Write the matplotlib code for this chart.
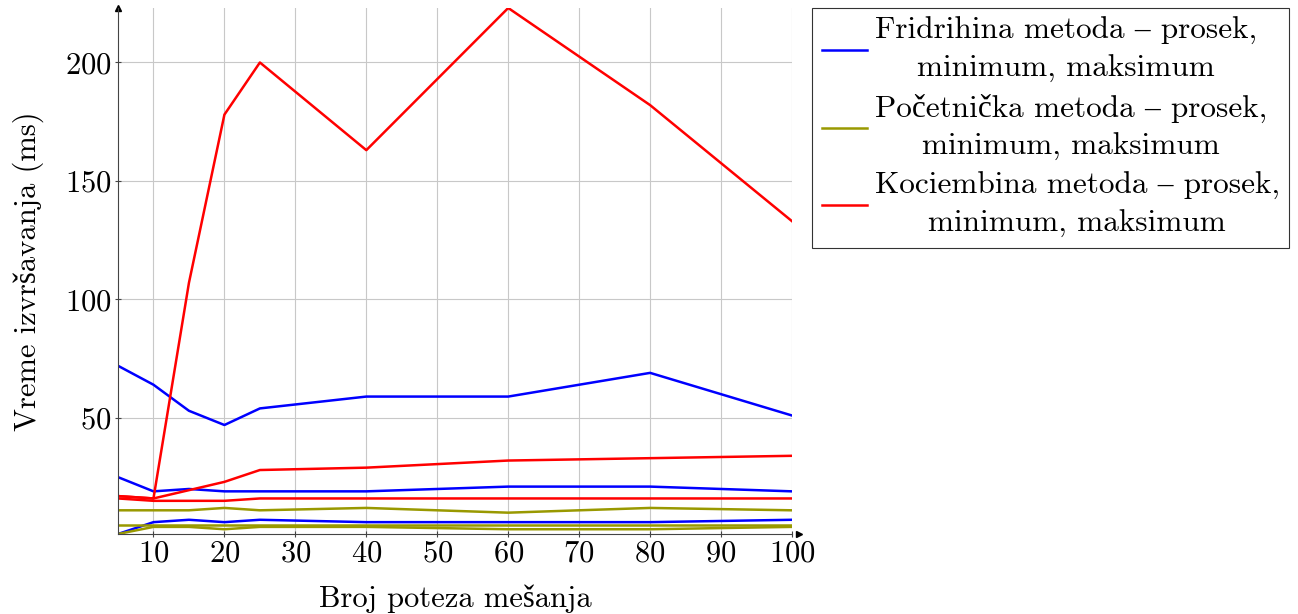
import matplotlib.pyplot as plt

# cmr10 lacks č/š, those fall back to Liberation Serif
plt.rcParams['font.family'] = ['cmr10', 'Liberation Serif']
plt.rcParams['axes.formatter.use_mathtext'] = True

# broj poteza mesanja
moves = [5, 10, 15, 20, 25, 40, 60, 80, 100]

# Fridrihina metoda (ms)
fridrich_avg = [25, 19, 20, 19, 19, 19, 21, 21, 19]
fridrich_min = [1, 6, 7, 6, 7, 6, 6, 6, 7]
fridrich_max = [72, 64, 53, 47, 54, 59, 59, 69, 51]

# Pocetnicka metoda (ms)
beginner_avg = [5, 5, 5, 5, 5, 5, 5, 5, 5]
beginner_min = [1, 4, 4, 3, 4, 4, 3, 3, 4]
beginner_max = [11, 11, 11, 12, 11, 12, 10, 12, 11]

# Kociembina metoda (ms)
kociemba_avg = [17, 16, 19.5, 23, 28, 29, 32, 33, 34]
kociemba_min = [16, 15, 15, 15, 16, 16, 16, 16, 16]
kociemba_max = [17, 16, 107, 178, 200, 163, 223, 182, 133]

labels = [
    'Fridrihina metoda – prosek,\nminimum, maksimum',
    'Početnička metoda – prosek,\nminimum, maksimum',
    'Kociembina metoda – prosek,\nminimum, maksimum',
]
colors = ['#0000ff', '#999900', '#ff0000']
fs = 22

fig = plt.figure(figsize=(12.98, 6.14), dpi=100)
ax = fig.add_axes([0.0909, 0.1303, 0.5193, 0.8567])

groups = [
    (fridrich_avg, fridrich_min, fridrich_max),
    (beginner_avg, beginner_min, beginner_max),
    (kociemba_avg, kociemba_min, kociemba_max),
]
handles = []
for (avg, mn, mx), color, label in zip(groups, colors, labels):
    h, = ax.plot(moves, avg, color=color, lw=1.8, label=label)
    ax.plot(moves, mn, color=color, lw=1.8)
    ax.plot(moves, mx, color=color, lw=1.8)
    handles.append(h)

all_vals = [v for g in groups for s in g for v in s]
ax.set_xlim(min(moves), max(moves))
ax.set_ylim(min(all_vals), max(all_vals))
ax.set_xticks([10, 20, 30, 40, 50, 60, 70, 80, 90, 100])
ax.set_yticks([50, 100, 150, 200])
ax.grid(True, color='#c8c8c8', lw=0.8)
ax.tick_params(labelsize=fs, direction='inout', length=5, width=0.8, color='#444444', pad=2)

for side in ['top', 'right']:
    ax.spines[side].set_visible(False)
for side in ['left', 'bottom']:
    ax.spines[side].set_color('#444444')
ax.plot(1.01, 0, '>', color='black', ms=5, transform=ax.transAxes, clip_on=False)
ax.plot(0, 1.0, '^', color='black', ms=5, transform=ax.transAxes, clip_on=False)

ax.set_xlabel('Broj poteza mešanja', fontsize=fs, labelpad=12)
ax.set_ylabel('Vreme izvršavanja (ms)', fontsize=fs, labelpad=15)

leg = ax.legend(handles=handles, loc='upper left', bbox_to_anchor=(1.03, 1.0),
                fontsize=22.5, frameon=True, fancybox=False, edgecolor='black',
                handlelength=1.45, handletextpad=0.25, borderpad=0.3, labelspacing=0.35,
                borderaxespad=0)
leg.get_frame().set_linewidth(0.8)
for t in leg.get_texts():
    t.set_multialignment('center')
    t.set_linespacing(1.45)

fig.savefig('out.png', dpi=100)
